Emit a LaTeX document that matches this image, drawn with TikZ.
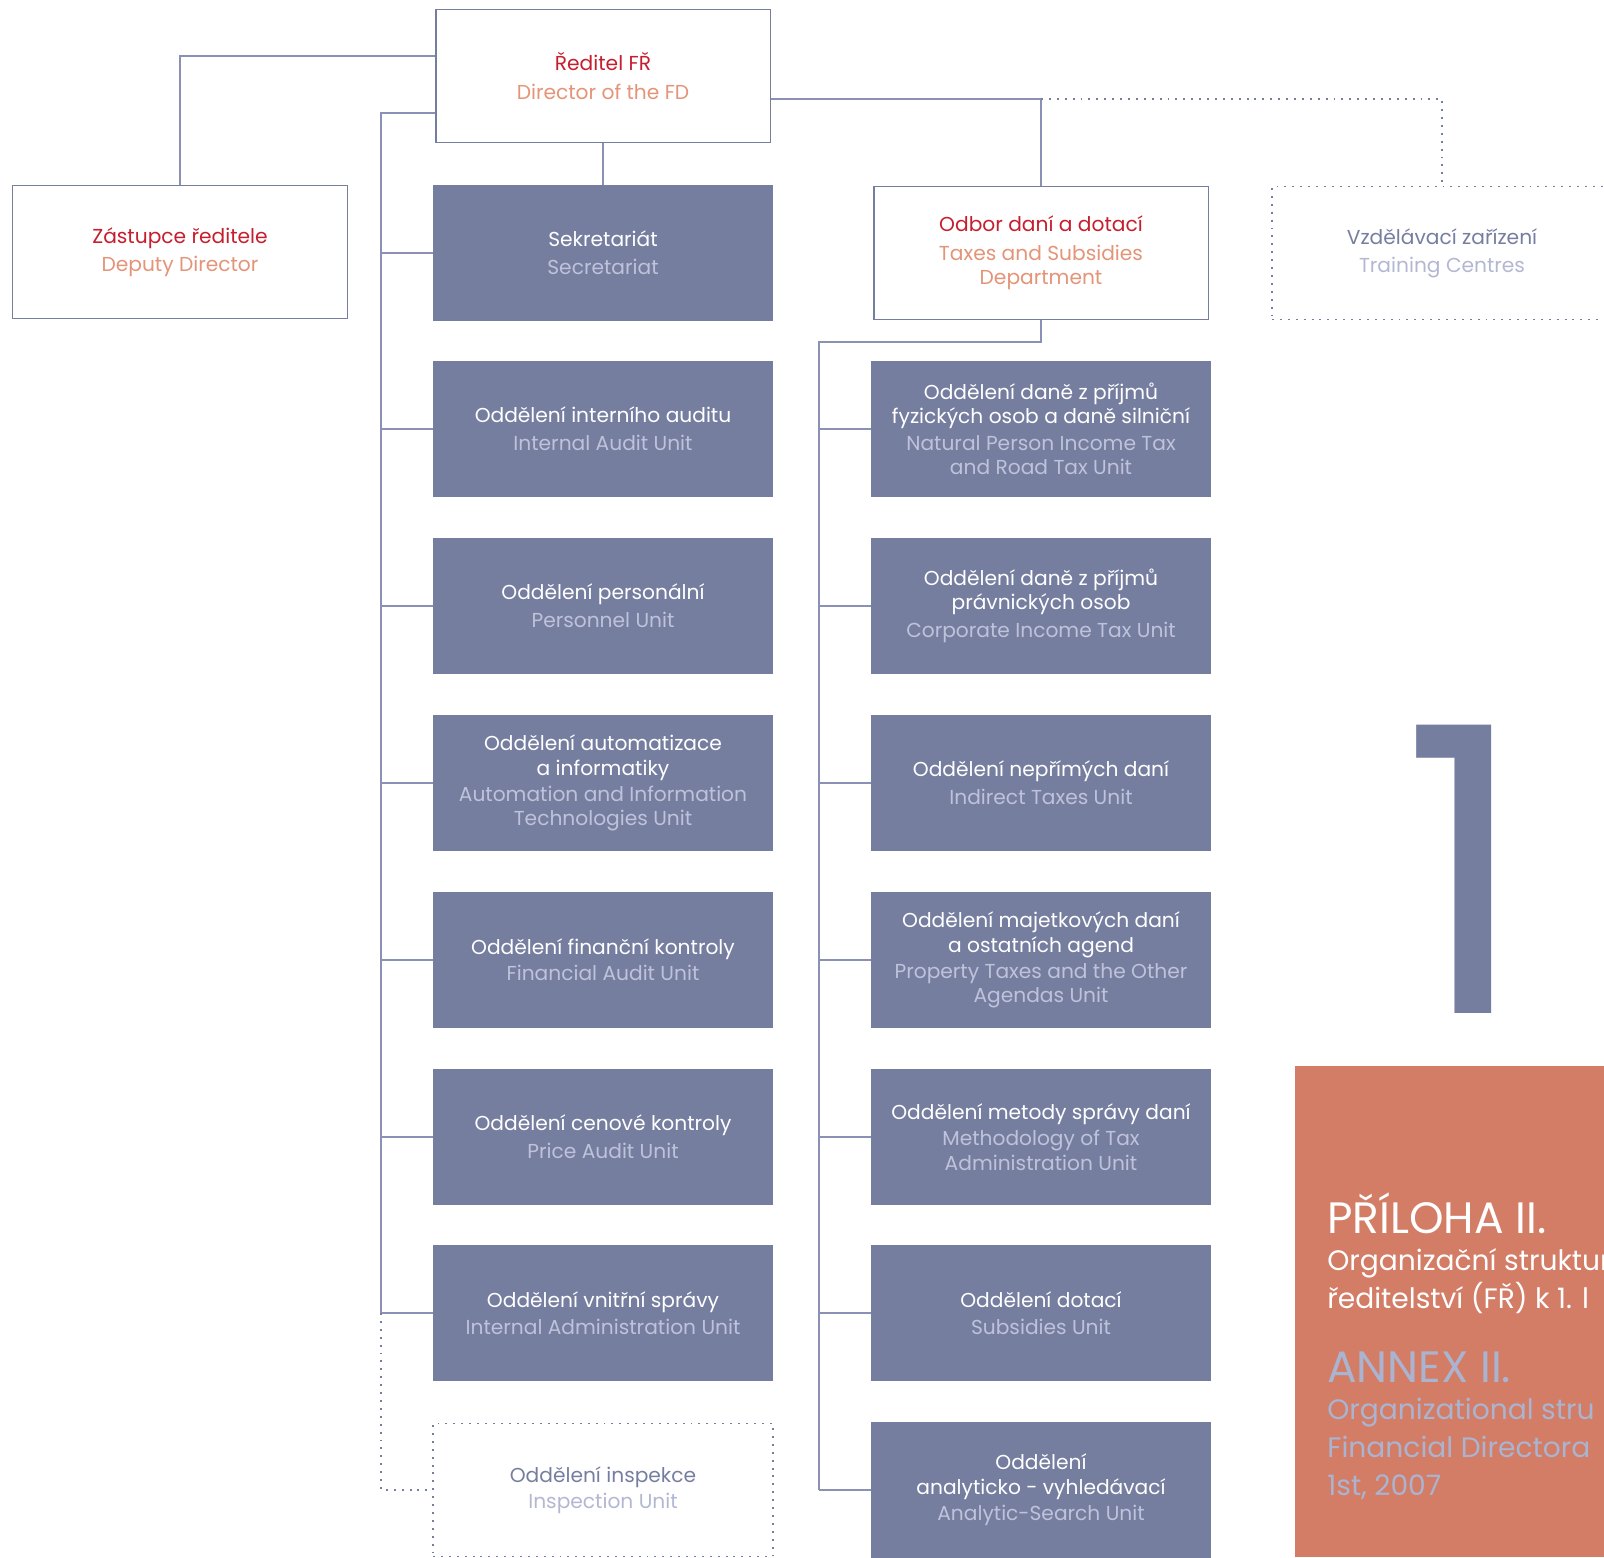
\documentclass[tikz,border=0pt]{standalone}
\usepackage{fontspec}
\setmainfont{Poppins}
\usetikzlibrary{positioning}

\definecolor{slate}{RGB}{118,126,160}
\definecolor{slateline}{RGB}{138,145,180}
\definecolor{czred}{RGB}{198,30,46}
\definecolor{ensalmon}{RGB}{228,148,120}
\definecolor{unitsub}{RGB}{190,195,219}
\definecolor{trainsub}{RGB}{178,183,210}
\definecolor{panel}{RGB}{211,125,102}
\definecolor{annex}{RGB}{170,180,208}

\tikzset{
  unitbox/.style={rectangle, fill=slate, text=white, minimum width=6.8cm,
    minimum height=2.72cm, align=center, font=\fontsize{11.5}{14}\selectfont},
  headbox/.style={rectangle, draw=slate, line width=1.1pt, fill=white, text=czred,
    minimum width=6.7cm, minimum height=2.66cm, align=center,
    font=\fontsize{11.5}{14}\selectfont},
  dotbox/.style={rectangle, draw=slate, line width=1.1pt, dash pattern=on 1.1pt off 3.4pt,
    text=slate, minimum width=6.8cm, minimum height=2.66cm, align=center,
    font=\fontsize{11.5}{14}\selectfont},
  link/.style={draw=slateline, line width=0.6pt},
  dotlink/.style={draw=slate, line width=1.1pt, dash pattern=on 1.1pt off 3.4pt},
  paneltext/.style={anchor=base west, inner sep=0pt}
}

\begin{document}
\begin{tikzpicture}[x=0.02cm, y=-0.02cm]
\useasboundingbox (0,0) rectangle (1604,1557);
\clip (0,0) rectangle (1604,1557);

% top level
\node[headbox] (dir) at (603,76) {Ředitel FŘ\\[2pt]\color{ensalmon}Director of the FD};
\node[headbox] (dep) at (180,252) {Zástupce ředitele\\[2pt]\color{ensalmon}Deputy Director};
\node[headbox] (odbor) at (1041,253) {Odbor daní a dotací\\[2pt]\color{ensalmon}Taxes and Subsidies\\\color{ensalmon}Department};
\node[dotbox] (vzdel) at (1442,253) {Vzdělávací zařízení\\[2pt]\color{trainsub}Training Centres};

% left column
\node[unitbox] (sek) at (603,253) {Sekretariát\\[2pt]\color{unitsub}Secretariat};
\node[unitbox] (audit) at (603,429) {Oddělení interního auditu\\[2pt]\color{unitsub}Internal Audit Unit};
\node[unitbox] (pers) at (603,606) {Oddělení personální\\[2pt]\color{unitsub}Personnel Unit};
\node[unitbox] (autom) at (603,783) {Oddělení automatizace\\a informatiky\\[1pt]\color{unitsub}Automation and Information\\\color{unitsub}Technologies Unit};
\node[unitbox] (fincon) at (603,960) {Oddělení finanční kontroly\\[1pt]\color{unitsub}Financial Audit Unit};
\node[unitbox] (pricecon) at (603,1137) {Oddělení cenové kontroly\\[2pt]\color{unitsub}Price Audit Unit};
\node[unitbox] (intadm) at (603,1313) {Oddělení vnitřní správy\\[1pt]\color{unitsub}Internal Administration Unit};
\node[dotbox] (insp) at (603,1490) {Oddělení inspekce\\[1pt]\color{trainsub}Inspection Unit};

% right column
\node[unitbox] (income) at (1041,429) {Oddělení daně z příjmů\\fyzických osob a daně silniční\\[1pt]\color{unitsub}Natural Person Income Tax\\\color{unitsub}and Road Tax Unit};
\node[unitbox] (corp) at (1041,606) {Oddělení daně z příjmů\\právnických osob\\[2pt]\color{unitsub}Corporate Income Tax Unit};
\node[unitbox] (indirect) at (1041,783) {Oddělení nepřímých daní\\[2pt]\color{unitsub}Indirect Taxes Unit};
\node[unitbox] (property) at (1041,960) {Oddělení majetkových daní\\a ostatních agend\\[1pt]\color{unitsub}Property Taxes and the Other\\\color{unitsub}Agendas Unit};
\node[unitbox] (method) at (1041,1137) {Oddělení metody správy daní\\[1pt]\color{unitsub}Methodology of Tax\\\color{unitsub}Administration Unit};
\node[unitbox] (subs) at (1041,1313) {Oddělení dotací\\[1pt]\color{unitsub}Subsidies Unit};
\node[unitbox] (analytic) at (1041,1490) {Oddělení\\analyticko - vyhledávací\\[1pt]\color{unitsub}Analytic-Search Unit};

% connectors
\coordinate (ltop) at (381,113);
\coordinate (rtop) at (819,342);
\draw[link] (dir.west |- 0,56) -| (dep.north);
\draw[link] (dir.south) -- (sek.north);
\draw[link] (dir.east |- 0,99) -| (odbor.north);
\draw[dotlink] (odbor.north |- 0,99) -| (vzdel.north);
\draw[link] (dir.west |- ltop) -- (ltop) -- (ltop |- intadm.west);
\foreach \u in {sek,audit,pers,autom,fincon,pricecon,intadm}
  \draw[link] (ltop |- \u.west) -- (\u.west);
\draw[dotlink] (ltop |- intadm.west) |- (insp.west);
\draw[link] (odbor.south) |- (rtop) -- (rtop |- analytic.west);
\foreach \u in {income,corp,indirect,property,method,subs,analytic}
  \draw[link] (rtop |- \u.west) -- (\u.west);

% annex panel
\node[anchor=base, inner sep=0pt, text=slate, font=\fontsize{227}{227}\selectfont] (one) at (1465,1013) {1};
\fill[panel] (1295,1066) rectangle (1604,1557);
\node[paneltext, text=white, font=\fontsize{25}{25}\selectfont] (hcz) at (1327,1233) {PŘÍLOHA II.};
\node[paneltext, text=white, font=\fontsize{16}{16}\selectfont] (tcza) at (1327,1270) {Organizační struktura};
\node[paneltext, text=white, font=\fontsize{16}{16}\selectfont] (tczb) at (1327,1308) {ředitelství (FŘ) k 1. l};
\node[paneltext, text=annex, font=\fontsize{25}{25}\selectfont] (hen) at (1327,1382) {ANNEX II.};
\node[paneltext, text=annex, font=\fontsize{16}{16}\selectfont] (tena) at (1327,1419) {Organizational stru};
\node[paneltext, text=annex, font=\fontsize{16}{16}\selectfont] (tenb) at (1327,1457) {Financial Directora};
\node[paneltext, text=annex, font=\fontsize{16}{16}\selectfont] (tenc) at (1327,1495) {1st, 2007};
\end{tikzpicture}
\end{document}
